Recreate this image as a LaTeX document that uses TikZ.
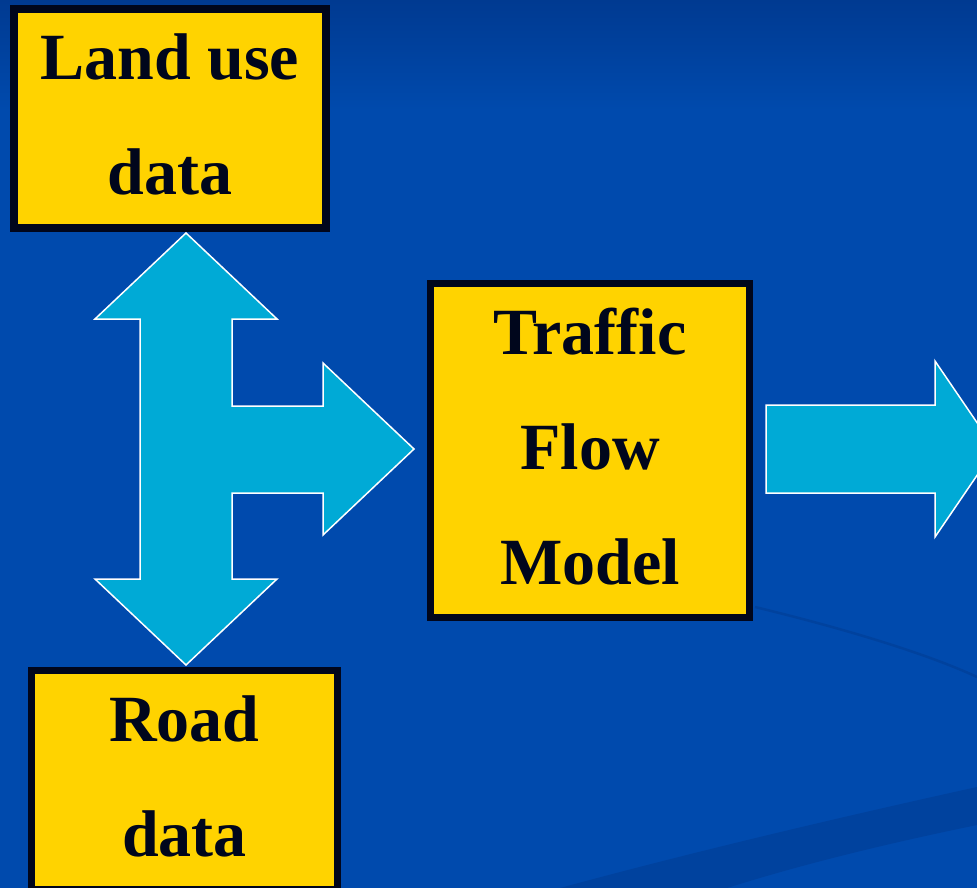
\documentclass[tikz,border=0pt]{standalone}
\usepackage{fontspec}
\setmainfont{Liberation Serif}
\definecolor{bgblue}{RGB}{0,74,173}
\definecolor{bgtop}{RGB}{0,58,145}
\definecolor{bgband}{RGB}{0,66,158}
\definecolor{boxyellow}{RGB}{255,211,0}
\definecolor{boxline}{RGB}{0,6,28}
\definecolor{arrowcyan}{RGB}{0,170,214}
\begin{document}
\begin{tikzpicture}[x=1pt,y=-1pt,
	databox/.style={draw=boxline,fill=boxyellow,line width=7.5pt,inner sep=0pt,align=center,text depth=8pt,text=boxline,font=\fontsize{66}{115}\selectfont\bfseries},
	blockarrow/.style={fill=arrowcyan,draw=white,line width=1.5pt,line join=miter}]
				\useasboundingbox (0,0) rectangle (977,888);
				\clip (0,0) rectangle (977,888);
				\fill[bgblue] (0,0) rectangle (977,888);
				\shade[top color=bgtop,bottom color=bgblue] (0,0) rectangle (977,110);
				\fill[bgband] (560,888) .. controls (700,850) and (850,815) .. (977,787) -- (977,825) .. controls (880,845) and (800,865) .. (727,888) -- cycle;
				\draw[bgband,line width=2.5pt] (755,607) .. controls (850,630) and (930,655) .. (977,677);
				\node[databox,minimum width=312pt,minimum height=219pt] (land) at (170,118.5) {Land use\\data};
				\node[databox,minimum width=319pt,minimum height=334pt] (flow) at (590,450.5) {Traffic\\Flow\\Model};
				\node[databox,minimum width=306pt,minimum height=219pt] (road) at (184.5,780) {Road\\data};
				\draw[blockarrow] (186,233) -- (277,319) -- (232,319) -- (232,406) -- (323,406) -- (323,363) -- (414,449) -- (323,535) -- (323,493) -- (232,493) -- (232,579) -- (277,579) -- (186,665) -- (95,579) -- (140,579) -- (140,319) -- (95,319) -- cycle;
				\draw[blockarrow] (766,405) -- (935,405) -- (935,361) -- (995,449) -- (935,537) -- (935,493) -- (766,493) -- cycle;
\end{tikzpicture}
\end{document}
